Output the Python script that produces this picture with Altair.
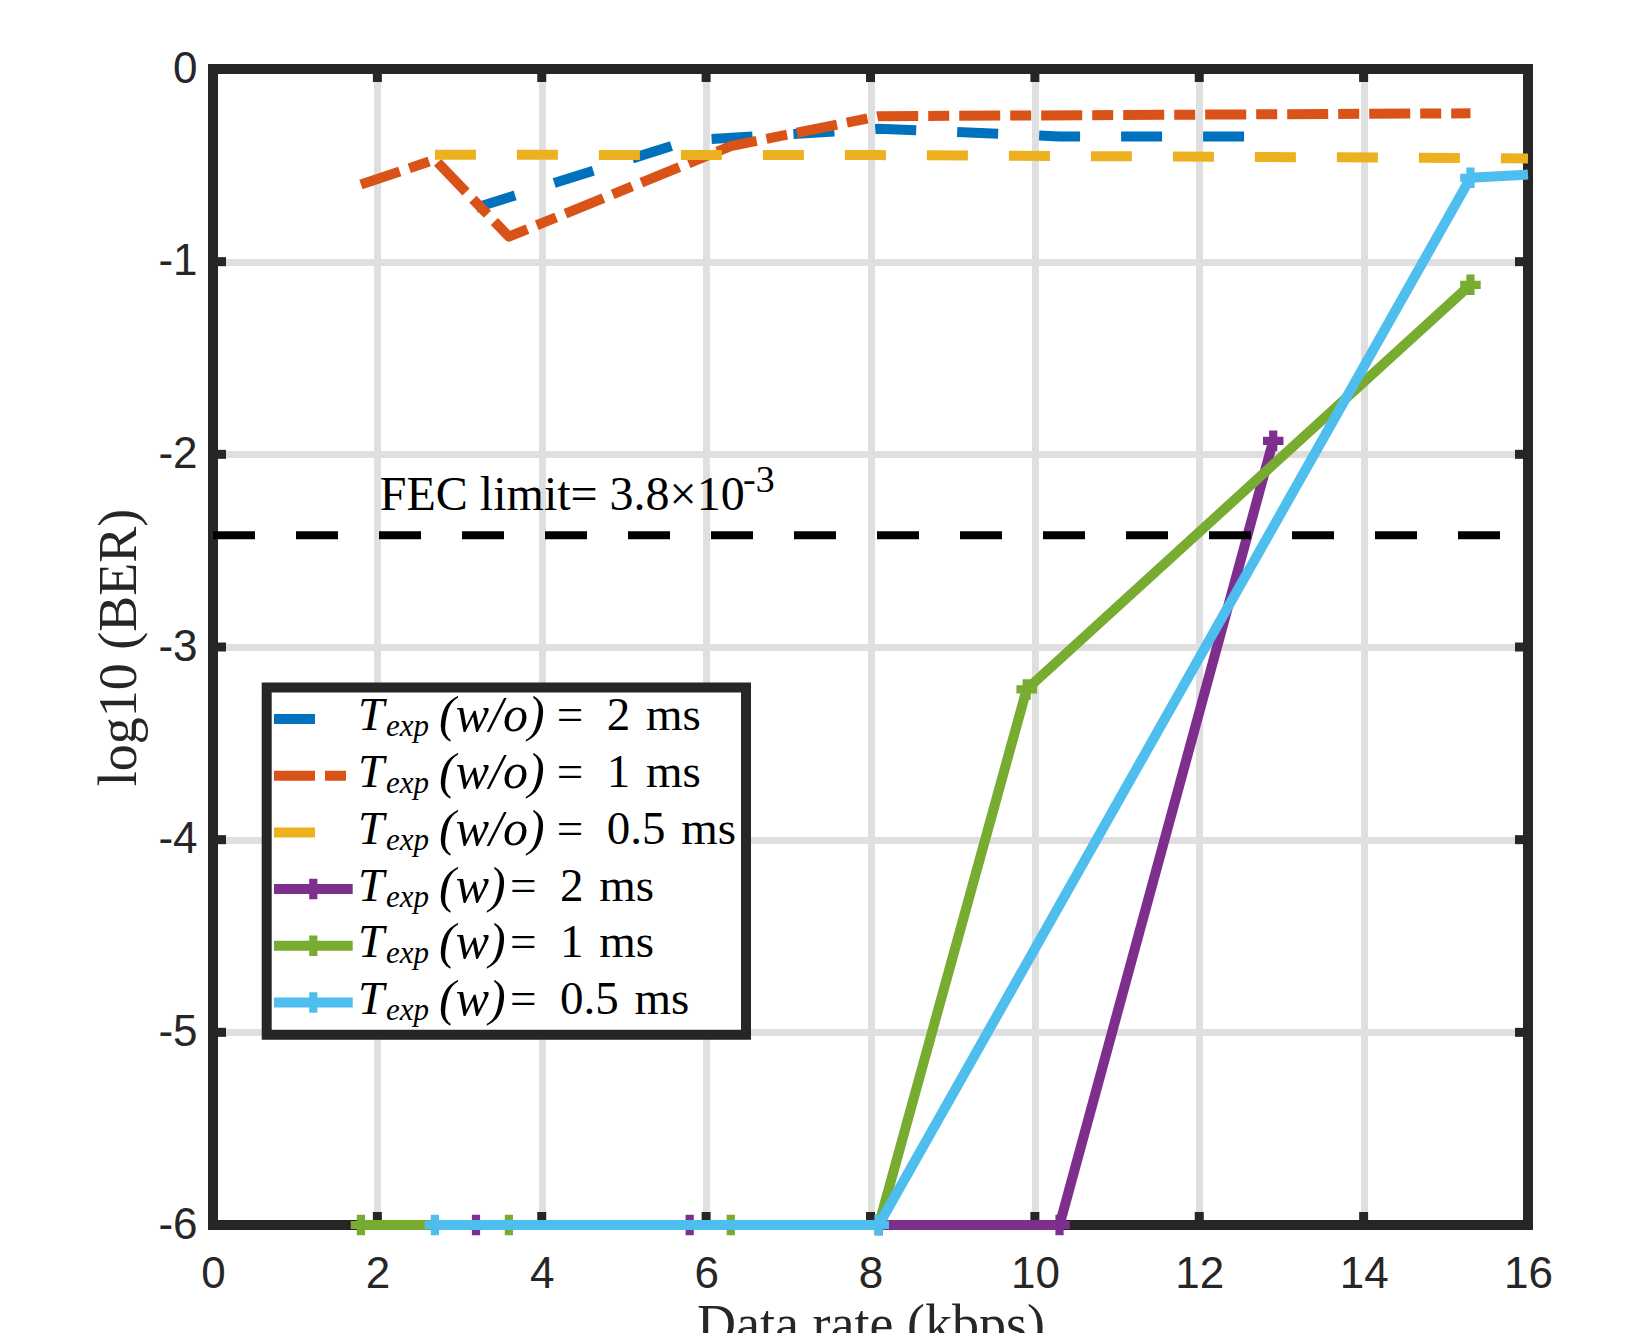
import altair as alt
import numpy as np
import pandas as pd

# ---------------- data ----------------
x_ticks = [0, 2, 4, 6, 8, 10, 12, 14, 16]
y_ticks = [-6, -5, -4, -3, -2, -1, 0]

series_ids = ["wo2", "wo1", "wo05", "w2", "w1", "w05"]

x_wo2 = [3.2, 5.8, 8.1, 10.3, 12.9]
y_wo2 = [-0.72, -0.37, -0.31, -0.35, -0.35]

x_wo1 = [1.8, 2.7, 3.6, 6.3, 8.1, 15.3]
y_wo1 = [-0.60, -0.47, -0.87, -0.40, -0.245, -0.23]

x_wo05 = [2.7, 8.1, 15.3, 16.0]
y_wo05 = [-0.445, -0.447, -0.462, -0.465]

x_w2 = [3.2, 5.8, 8.1, 10.3, 12.9]
y_w2 = [-6.0, -6.0, -6.0, -6.0, -1.93]

x_w1 = [1.8, 3.6, 6.3, 8.1, 9.9, 15.3]
y_w1 = [-6.0, -6.0, -6.0, -6.0, -3.22, -1.12]

x_w05 = [2.7, 8.1, 15.3, 16.0]
y_w05 = [-6.0, -6.0, -0.565, -0.548]

legend_cond = ["(w/o)", "(w/o)", "(w/o)", "(w)", "(w)", "(w)"]
legend_ms = ["2", "1", "0.5", "2", "1", "0.5"]

fec_ber = 3.8e-3
fec_text = "FEC limit= 3.8\u00d710"
fec_sup = "-3"

# ---------------- styles ----------------
W, H = 1315, 1156
FRAME = "#262626"
GRID = "#dfdfdf"
styles = {
    "wo2": dict(color="#0072BD", dash=[41, 41], marker=False),
    "wo1": dict(color="#D95319", dash=[41, 10, 21, 10], marker=False),
    "wo05": dict(color="#EDB120", dash=[41, 41], marker=False),
    "w2": dict(color="#7E2F8E", dash=None, marker=True),
    "w1": dict(color="#77AC30", dash=None, marker=True),
    "w05": dict(color="#4DBEEE", dash=None, marker=True),
}
data_x = {"wo2": x_wo2, "wo1": x_wo1, "wo05": x_wo05, "w2": x_w2, "w1": x_w1, "w05": x_w05}
data_y = {"wo2": y_wo2, "wo1": y_wo1, "wo05": y_wo05, "w2": y_w2, "w1": y_w1, "w05": y_w05}

xscale = alt.Scale(domain=[0, 16], nice=False, zero=False)
yscale = alt.Scale(domain=[-6, 0], nice=False, zero=False)

xaxis = alt.Axis(
    values=x_ticks, grid=True, gridColor=GRID, gridWidth=7, domain=False,
    ticks=False, tickSize=0, labelFont="Liberation Sans", labelFontSize=44,
    labelColor=FRAME, labelPadding=27, title="Data rate (kbps)",
    titleFont="Liberation Serif", titleFontSize=54, titleFontWeight="normal",
    titleColor=FRAME, titleX=W / 2, titleY=116, titleBaseline="alphabetic",
    titleAlign="center", labelFlush=False,
)
yaxis = alt.Axis(
    values=y_ticks, grid=True, gridColor=GRID, gridWidth=7, domain=False,
    ticks=False, tickSize=0, labelFont="Liberation Sans", labelFontSize=44,
    labelColor=FRAME, labelPadding=16, labelExpr="'' + datum.value",
    title="log10 (BER)", titleFont="Liberation Serif", titleFontSize=54,
    titleFontWeight="normal", titleColor=FRAME, titleX=-78, titleY=H / 2,
    titleAngle=270, titleBaseline="alphabetic", titleAlign="center", labelFlush=False,
)


def X(field):
    return alt.X(f"{field}:Q", scale=xscale, axis=xaxis)


def Y(field):
    return alt.Y(f"{field}:Q", scale=yscale, axis=yaxis)


layers = []

# frame (drawn below data, like MATLAB)
dummy = pd.DataFrame({"a": [0]})
frame_rule = dict(color=FRAME, strokeWidth=10, strokeCap="square")
layers.append(alt.Chart(dummy).mark_rule(**frame_rule).encode(x=alt.value(0), y=alt.value(0), y2=alt.value(H)))
layers.append(alt.Chart(dummy).mark_rule(**frame_rule).encode(x=alt.value(W), y=alt.value(0), y2=alt.value(H)))
layers.append(alt.Chart(dummy).mark_rule(**frame_rule).encode(y=alt.value(0), x=alt.value(0), x2=alt.value(W)))
layers.append(alt.Chart(dummy).mark_rule(**frame_rule).encode(y=alt.value(H), x=alt.value(0), x2=alt.value(W)))

# inward ticks on all four sides
df_xt = pd.DataFrame({"x": x_ticks})
df_yt = pd.DataFrame({"y": y_ticks})
tick_style = dict(color=FRAME, strokeWidth=9)
layers.append(alt.Chart(df_xt).mark_rule(**tick_style).encode(x=X("x"), y=alt.value(H - 13), y2=alt.value(H)))
layers.append(alt.Chart(df_xt).mark_rule(**tick_style).encode(x=X("x"), y=alt.value(0), y2=alt.value(13)))
layers.append(alt.Chart(df_yt).mark_rule(**tick_style).encode(y=Y("y"), x=alt.value(0), x2=alt.value(13)))
layers.append(alt.Chart(df_yt).mark_rule(**tick_style).encode(y=Y("y"), x=alt.value(W - 13), x2=alt.value(W)))

# data lines
for sid in series_ids:
    st = styles[sid]
    df = pd.DataFrame({"x": data_x[sid], "y": data_y[sid], "order": list(range(len(data_x[sid])))})
    kw = dict(color=st["color"], strokeWidth=10, strokeJoin="round", strokeCap="butt")
    if st["dash"]:
        kw["strokeDash"] = st["dash"]
    layers.append(alt.Chart(df).mark_line(**kw).encode(x=X("x"), y=Y("y"), order="order:Q"))
    if st["marker"]:
        layers.append(
            alt.Chart(df).transform_filter("datum.x < 16").mark_point(
                shape="cross", filled=True, size=420, color=st["color"], opacity=1
            ).encode(x=X("x"), y=Y("y"))
        )

# FEC limit line + annotation
df_fec = pd.DataFrame({"x0": [0.0], "x1": [16.0], "y": [float(np.log10(fec_ber))]})
layers.append(
    alt.Chart(df_fec).mark_rule(color="black", strokeWidth=8, strokeDash=[42, 41]).encode(
        x=X("x0"), x2="x1:Q", y=Y("y")
    )
)
df_fec_txt = pd.DataFrame({"x": [2.03], "y": [-2.288], "t": [fec_text]})
layers.append(
    alt.Chart(df_fec_txt).mark_text(
        font="Liberation Serif", fontSize=48, align="left", baseline="alphabetic", color="black"
    ).encode(x=X("x"), y=Y("y"), text="t:N")
)
df_fec_sup = pd.DataFrame({"x": [6.45], "y": [-2.193], "t": [fec_sup]})
layers.append(
    alt.Chart(df_fec_sup).mark_text(
        font="Liberation Serif", fontSize=38, align="left", baseline="alphabetic", color="black"
    ).encode(x=X("x"), y=Y("y"), text="t:N")
)

# ---------------- custom legend ----------------
row_y = [650.0 + 56.7 * i for i in range(6)]
layers.append(
    alt.Chart(dummy).mark_rect(fill="white", stroke=FRAME, strokeWidth=10).encode(
        x=alt.value(53.7), x2=alt.value(533), y=alt.value(618.4), y2=alt.value(965.7)
    )
)
for i, sid in enumerate(series_ids):
    st = styles[sid]
    kw = dict(color=st["color"], strokeWidth=10, strokeCap="butt")
    if st["dash"]:
        kw["strokeDash"] = st["dash"]
    layers.append(
        alt.Chart(dummy).mark_rule(**kw).encode(
            x=alt.value(61), x2=alt.value(139.7), y=alt.value(row_y[i])
        )
    )
    if st["marker"]:
        layers.append(
            alt.Chart(dummy).mark_point(
                shape="cross", filled=True, size=420, color=st["color"], opacity=1
            ).encode(x=alt.value(100.3), y=alt.value(row_y[i]))
        )

df_leg = pd.DataFrame({
    "cond": legend_cond,
    "eq": ["=\u2002" + m + "\u2004ms" for m in legend_ms],
    "yb": [r + 11.4 for r in row_y],
    "yc": [r + 12.4 for r in row_y],
    "ys": [r + 17.4 for r in row_y],
    "xeq": [343.7 if c == "(w/o)" else 297.0 for c in legend_cond],
})
leg_font = dict(font="Liberation Serif", align="left", baseline="alphabetic", color="black")
layers.append(
    alt.Chart(df_leg).mark_text(fontSize=47, fontStyle="italic", **leg_font).encode(
        x=alt.value(145), y=alt.Y("yb:Q", scale=None, axis=None), text=alt.value("T")
    )
)
layers.append(
    alt.Chart(df_leg).mark_text(fontSize=31, fontStyle="italic", **leg_font).encode(
        x=alt.value(173), y=alt.Y("ys:Q", scale=None, axis=None), text=alt.value("exp")
    )
)
layers.append(
    alt.Chart(df_leg).mark_text(fontSize=50, fontStyle="italic", **leg_font).encode(
        x=alt.value(226), y=alt.Y("yc:Q", scale=None, axis=None), text="cond:N"
    )
)
layers.append(
    alt.Chart(df_leg).mark_text(fontSize=47, **leg_font).encode(
        x=alt.X("xeq:Q", scale=None, axis=None), y=alt.Y("yb:Q", scale=None, axis=None), text="eq:N"
    )
)

chart = (
    alt.layer(*layers)
    .properties(
        width=W,
        height=H,
        autosize=alt.AutoSizeParams(type="none"),
        padding={"left": 205, "top": 61, "right": 60, "bottom": 120},
    )
    .configure_view(stroke=None)
    .configure(background="white")
)

chart.save("out.html", embed_options={"renderer": "svg", "actions": False})
